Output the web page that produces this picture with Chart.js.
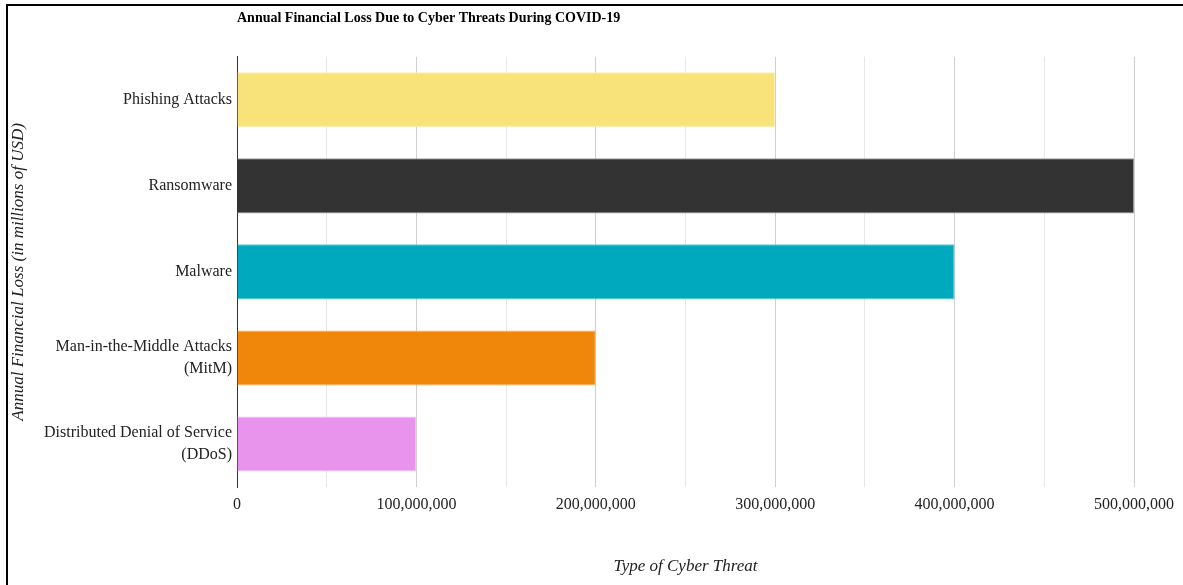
<!DOCTYPE html>
<html lang="en">
<head>
    <meta charset="UTF-8">
    <title>Annual Financial Loss Due to Cyber Threats During COVID-19</title>
    <script src="https://cdn.jsdelivr.net/npm/chart.js"></script>
    <style>
        * { margin: 0; padding: 0; box-sizing: border-box; }
        body { width: 1183px; height: 585px; overflow: hidden; background: #fff; }
        .frame {
            margin: 4px 0 0 6px;
            width: 1177px;
            height: 581px;
            border-top: 2px solid #000;
            border-left: 2px solid #000;
        }
        .chart-box { position: relative; width: 1175px; height: 579px; }
    </style>
</head>
<body>
    <div class="frame">
        <div class="chart-box"><canvas id="lossChart"></canvas></div>
    </div>

    <script>
        // threat types (multi-line where the label wraps)
        const categories = [
            'Phishing Attacks',
            'Ransomware',
            'Malware',
            ['Man-in-the-Middle Attacks', '(MitM)'],
            ['Distributed Denial of Service', '(DDoS)']
        ];
        // annual loss per threat, USD
        const losses = [300000000, 500000000, 400000000, 200000000, 100000000];
        const barColors = ['#f8e27a', '#333333', '#00a9be', '#f0870b', '#e894ec'];
        const barEdges = ['#fbeeb0', '#9a9a9a', '#5cc8d4', '#f6b066', '#f2c2f4'];

        const serif = "'Liberation Serif', 'Times New Roman', serif";

        const ctx = document.getElementById('lossChart').getContext('2d');
        new Chart(ctx, {
            type: 'bar',
            data: {
                labels: categories,
                datasets: [{
                    data: losses,
                    backgroundColor: barColors,
                    borderColor: barEdges,
                    borderWidth: 1,
                    barPercentage: 0.64,
                    categoryPercentage: 1
                }]
            },
            options: {
                indexAxis: 'y',
                responsive: true,
                maintainAspectRatio: false,
                animation: false,
                layout: { padding: { left: 0, right: 49, top: 0, bottom: 0 } },
                plugins: {
                    legend: { display: false },
                    tooltip: { enabled: false },
                    title: {
                        display: true,
                        text: 'Annual Financial Loss Due to Cyber Threats During COVID-19',
                        align: 'start',
                        fullSize: false,
                        color: '#000',
                        font: { family: serif, size: 14, weight: 'bold' },
                        padding: { top: 4, bottom: 30 }
                    }
                },
                scales: {
                    x: {
                        min: 0,
                        max: 500000000,
                        afterFit: s => { s.height = 98; },
                        ticks: {
                            stepSize: 50000000,
                            color: '#222',
                            padding: 8,
                            maxRotation: 0,
                            autoSkip: false,
                            font: { family: serif, size: 16 },
                            callback: v => v % 100000000 === 0 ? v.toLocaleString('en-US') : ''
                        },
                        grid: {
                            drawTicks: false,
                            color: c => (c.tick && c.tick.value % 100000000 === 0) ? '#cfcfcf' : '#e8e8e8'
                        },
                        border: { display: false },
                        title: {
                            display: true,
                            text: 'Type of Cyber Threat',
                            color: '#222',
                            font: { family: serif, size: 17, style: 'italic' },
                            padding: { top: 44, bottom: 8 }
                        }
                    },
                    y: {
                        afterFit: s => { s.width = 229; },
                        ticks: {
                            color: '#222',
                            padding: 5,
                            font: { family: serif, size: 16, lineHeight: 1.35 }
                        },
                        grid: { display: false, drawTicks: false },
                        border: { display: true, color: '#333', width: 1 },
                        title: {
                            display: true,
                            text: 'Annual Financial Loss (in millions of USD)',
                            color: '#222',
                            font: { family: serif, size: 17, style: 'italic' },
                            padding: { top: 0, bottom: 0 }
                        }
                    }
                }
            }
        });
    </script>
</body>
</html>
